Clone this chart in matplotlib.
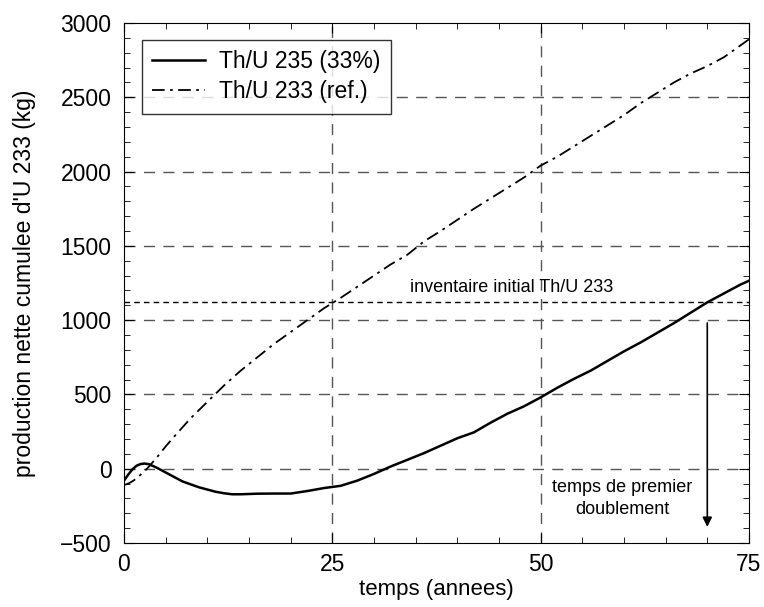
import numpy as np
import matplotlib.pyplot as plt
from matplotlib.ticker import MultipleLocator

plt.rcParams['font.family'] = ['Liberation Sans', 'DejaVu Sans']

# Th/U 235 (33%) - solid
t_u235 = [0, 0.5, 1, 1.5, 2, 2.5, 3, 3.5, 4, 5, 6, 7, 8, 9, 10, 11, 12, 13, 14, 15, 16, 18, 20,
          22, 24, 26, 28, 30, 32, 34, 36, 38, 40, 42, 44, 46, 48, 50, 52, 54, 56, 58, 60, 62,
          64, 66, 68, 70, 72, 74, 75]
prod_u235 = [-80, -40, -5, 20, 32, 35, 30, 18, 5, -25, -55, -85, -105, -125, -140, -155, -165,
             -172, -172, -170, -168, -167, -167, -150, -130, -115, -80, -35, 15, 60, 105, 155,
             205, 245, 310, 370, 420, 480, 545, 605, 660, 725, 790, 850, 915, 980, 1050, 1120,
             1180, 1240, 1265]

# Th/U 233 (ref.) - dash-dot
t_u233 = [0, 0.5, 1, 1.5, 2, 2.5, 3, 4, 5, 6, 8, 10, 12, 14, 16, 18, 20, 22, 24, 26, 28, 30, 32,
          34, 36, 38, 40, 42, 44, 46, 48, 50, 52, 54, 56, 58, 60, 62, 64, 66, 68, 70, 72, 74, 75]
prod_u233 = [-110, -100, -85, -65, -40, -15, 15, 80, 150, 215, 340, 450, 560, 660, 750, 840, 920,
             1000, 1080, 1150, 1225, 1300, 1375, 1440, 1530, 1600, 1675, 1750, 1820, 1890, 1960,
             2040, 2100, 2170, 2240, 2310, 2380, 2460, 2530, 2600, 2660, 2710, 2770, 2850, 2890]

inventaire = 1120
t_doublement = 70

fig = plt.figure(figsize=(7.64, 6.07), dpi=100)
ax = fig.add_axes([0.1623, 0.1054, 0.818, 0.8567])

for v in [25, 50]:
    ax.axvline(v, color='#555555', lw=1.0, dashes=(8, 6), zorder=1)
for v in [0, 500, 1000, 1500, 2000, 2500]:
    ax.axhline(v, color='#555555', lw=1.0, dashes=(8, 6), zorder=1)

ax.axhline(inventaire, color='black', lw=1.0, dashes=(4, 3), zorder=2)
ax.text(46.5, inventaire + 40, 'inventaire initial Th/U 233', ha='center', va='bottom', fontsize=13)

ax.plot(t_u235, prod_u235, color='black', lw=1.8, label='Th/U 235 (33%)', zorder=3)
ax.plot(t_u233, prod_u233, color='black', lw=1.3, dashes=(7, 3, 1.5, 3), label='Th/U 233 (ref.)', zorder=3)

ax.annotate('', xy=(t_doublement, -410), xytext=(t_doublement, 1000),
            arrowprops=dict(arrowstyle='-|>', color='black', lw=1.2, mutation_scale=14))
ax.text(59.8, -200, 'temps de premier\ndoublement', ha='center', va='center', fontsize=13,
        multialignment='center', linespacing=1.35)

ax.set_xlim(0, 75)
ax.set_ylim(-500, 3000)
ax.set_xticks([0, 25, 50, 75])
ax.set_yticks([-500, 0, 500, 1000, 1500, 2000, 2500, 3000])
ax.set_yticklabels(['\u2212500', '0', '500', '1000', '1500', '2000', '2500', '3000'])
ax.xaxis.set_minor_locator(MultipleLocator(5))
ax.yaxis.set_minor_locator(MultipleLocator(100))
ax.tick_params(which='both', direction='in', top=True, right=True, labelsize=16.5)
ax.tick_params(which='major', length=7)
ax.tick_params(axis='y', which='major', pad=9)
ax.tick_params(axis='x', which='major', pad=7)
ax.tick_params(which='minor', length=4)

ax.set_xlabel('temps (annees)', fontsize=16, labelpad=2)
ax.set_ylabel("production nette cumulee d'U 233 (kg)", fontsize=16.5, labelpad=17)

leg = ax.legend(loc='upper left', fontsize=16.5, fancybox=False, edgecolor='black',
                handlelength=2.3, handletextpad=0.6, borderpad=0.45, labelspacing=0.3,
                borderaxespad=0, bbox_to_anchor=(0.029, 0.967))
leg.get_frame().set_linewidth(1.0)

fig.savefig('out.png', dpi=100)
